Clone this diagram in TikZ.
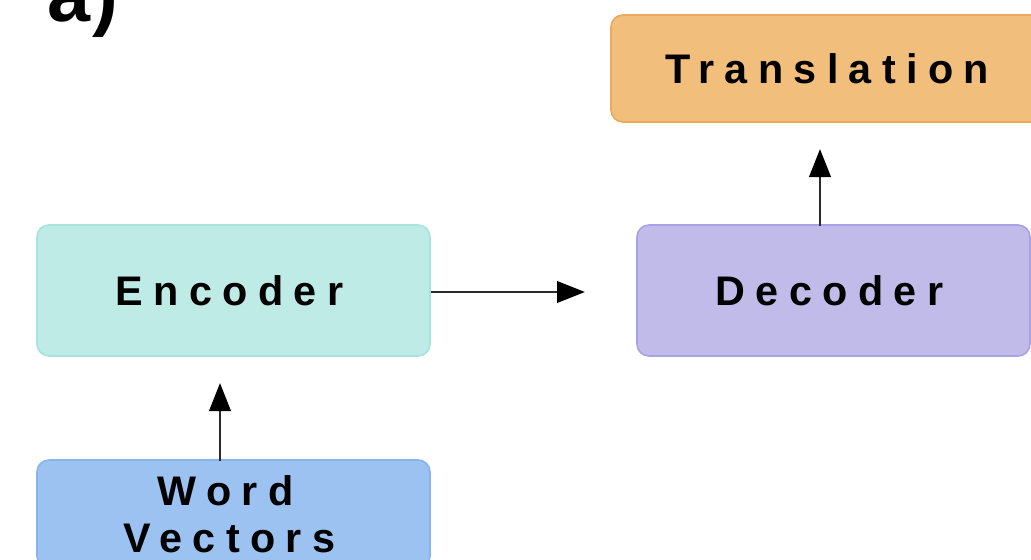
\documentclass[tikz,border=0pt]{standalone}
\usepackage{fontspec}
\setmainfont{Liberation Sans}
\newfontfamily\boxfont[LetterSpace=25]{Liberation Sans Bold}
\usetikzlibrary{arrows.meta,calc}

\definecolor{encFill}{HTML}{BEEBE6}
\definecolor{encLine}{HTML}{A6E4DD}
\definecolor{decFill}{HTML}{C1BBEA}
\definecolor{decLine}{HTML}{A8A1E6}
\definecolor{traFill}{HTML}{F1BE7B}
\definecolor{traLine}{HTML}{EAAA5E}
\definecolor{wvFill}{HTML}{9CC2F2}
\definecolor{wvLine}{HTML}{89B3EE}
\definecolor{arrowInk}{HTML}{2B2B2B}

% trailing room so the spaced-out words sit a little left of centre
\newcommand{\trail}{\hspace*{6pt}}

\tikzset{
  blockbox/.style={rounded corners=9pt, line width=1.2pt, inner sep=0pt,
    align=center, font=\boxfont\fontsize{31}{36}\selectfont},
  flow/.style={draw=arrowInk, line width=2.2pt,
    -{Triangle[length=21pt,width=16pt,color=black]}}
}

\begin{document}
\begin{tikzpicture}[x=0.75pt, y=-0.75pt]
  \useasboundingbox (0,0) rectangle (1031,560);

  % panel label
  \node[anchor=base west, inner sep=0pt, font=\bfseries\fontsize{58}{62}\selectfont]
    (panel) at (47,22) {a\kern2pt)};

  % blocks
  \node[blockbox, fill=encFill, draw=encLine,
        minimum width=393*0.75pt, minimum height=131*0.75pt]
    (enc) at (233.5,290.5) {Encoder\trail};
  \node[blockbox, fill=decFill, draw=decLine,
        minimum width=393*0.75pt, minimum height=131*0.75pt]
    (dec) at (833.5,290.5) {Decoder\trail};
  \node[blockbox, fill=traFill, draw=traLine,
        minimum width=440*0.75pt, minimum height=107*0.75pt]
    (tra) at (831,68.5) {Translation\trail};
  \node[blockbox, fill=wvFill, draw=wvLine,
        minimum width=393*0.75pt, minimum height=108*0.75pt,
        font=\boxfont\fontsize{31}{35.5}\selectfont]
    (wv) at (233.5,514) {Word\hspace*{12pt}\\Vectors\trail};

  % free ends of the connectors
  \coordinate (encTip) at (585,292);
  \coordinate (decFoot) at (820,226);
  \coordinate (decTip) at (820,149);
  \coordinate (wvFoot) at (220,461);
  \coordinate (wvTip) at (220,383);

  % connectors
  \draw[flow] (enc.east |- encTip) -- (encTip);
  \draw[flow] (decFoot) -- (decTip);
  \draw[flow] (wvFoot) -- (wvTip);
\end{tikzpicture}
\end{document}
